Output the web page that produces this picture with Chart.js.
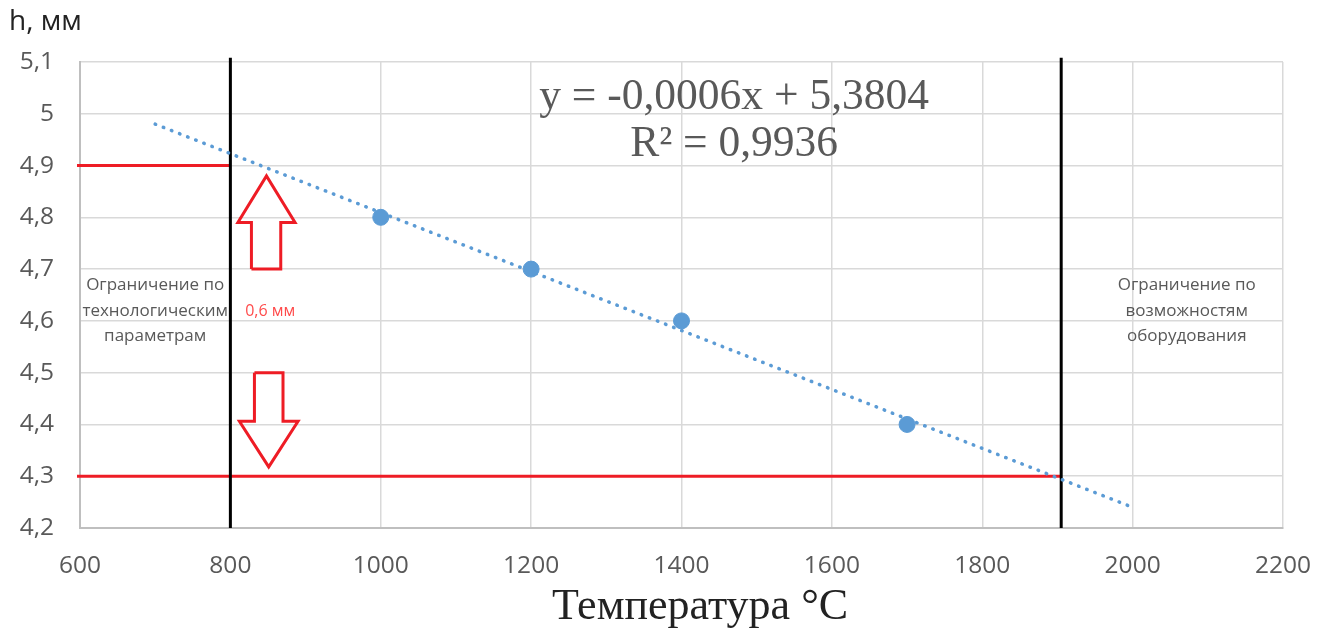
<html>
<head>
    <script src="https://cdn.jsdelivr.net/npm/chart.js@4.4.0/dist/chart.umd.min.js"></script>
    <style>
        body { margin: 0; background: #fff; }
        #wrap { position: relative; width: 1330px; height: 633px; }
    </style>
</head>
<body>
    <div id="wrap"><canvas id="chart" width="1330" height="633"></canvas></div>
    <script>
        // measured points
        const tempValues = [1000, 1200, 1400, 1700];
        const hValues = [4.8, 4.7, 4.6, 4.4];

        // trend line ends
        const trendX = [700, 2000];
        const trendY = [4.98, 4.24];

        // limits
        const limitX = [800, 1905];
        const limitYTop = 5.108;
        const upperH = 4.9;
        const lowerH = 4.3;

        // arrows (outline vertices)
        const upArrowX = [828, 828, 810, 848, 886, 867, 867, 828];
        const upArrowY = [4.70, 4.79, 4.79, 4.88, 4.79, 4.79, 4.70, 4.70];
        const downArrowX = [832, 832, 812, 851, 890, 870, 870, 832];
        const downArrowY = [4.50, 4.406, 4.406, 4.318, 4.406, 4.406, 4.50, 4.50];

        const xTickLabels = ['600', '800', '1000', '1200', '1400', '1600', '1800', '2000', '2200'];
        const yTickLabels = ['4,2', '4,3', '4,4', '4,5', '4,6', '4,7', '4,8', '4,9', '5', '5,1'];

        const toPts = (xs, ys) => xs.map((x, i) => ({ x: x, y: ys[i] }));

        const red = '#ee1c25';
        const grey = '#595959';

        const lineDs = (pts, color, width) => ({
            data: pts,
            showLine: true,
            borderColor: color,
            borderWidth: width,
            pointRadius: 0,
            fill: false,
            clip: false,
        });

        // texts drawn on the chart
        const textPlugin = {
            id: 'texts',
            afterDatasetsDraw(chart) {
                const ctx = chart.ctx;
                const xs = chart.scales.x, ys = chart.scales.y;
                ctx.save();
                ctx.textAlign = 'center';
                ctx.textBaseline = 'middle';

                ctx.fillStyle = grey;
                ctx.font = '17px "Open Sans"';
                const left = ['Ограничение по', 'технологическим', 'параметрам'];
                const right = ['Ограничение по', 'возможностям', 'оборудования'];
                left.forEach((t, i) => ctx.fillText(t, xs.getPixelForValue(700), ys.getPixelForValue(4.619) + (i - 1) * 25.5));
                right.forEach((t, i) => ctx.fillText(t, xs.getPixelForValue(2072), ys.getPixelForValue(4.619) + (i - 1) * 25.5));

                ctx.fillStyle = '#ff4b4b';
                ctx.font = '16px "Open Sans"';
                ctx.fillText('0,6 мм', xs.getPixelForValue(853), ys.getPixelForValue(4.619));

                ctx.fillStyle = grey;
                ctx.font = '43.5px "Liberation Serif"';
                ctx.fillText('y = -0,0006x + 5,3804', xs.getPixelForValue(1470), ys.getPixelForValue(5.032));
                ctx.fillText('R² = 0,9936', xs.getPixelForValue(1470), ys.getPixelForValue(4.940));

                ctx.fillStyle = '#222';
                ctx.font = '44px "Liberation Serif"';
                ctx.fillText('Температура °С', 700, 607);

                ctx.textAlign = 'left';
                ctx.font = '28px "Open Sans"';
                ctx.fillText('h, мм', 9, 22);
                ctx.restore();
            }
        };

        new Chart(document.getElementById('chart'), {
            type: 'scatter',
            data: {
                datasets: [
                    {
                        data: toPts(tempValues, hValues),
                        backgroundColor: '#5b9bd5',
                        borderColor: '#5b9bd5',
                        pointRadius: 8,
                        showLine: false,
                    },
                    Object.assign(lineDs(toPts(trendX, trendY), '#5b9bd5', 3.5), {
                        borderDash: [0.5, 8.2],
                        borderCapStyle: 'round',
                    }),
                    lineDs(toPts([limitX[0], limitX[0]], [4.2, limitYTop]), '#000', 3),
                    lineDs(toPts([limitX[1], limitX[1]], [4.2, limitYTop]), '#000', 3),
                    lineDs(toPts([596, limitX[0]], [upperH, upperH]), red, 3),
                    lineDs(toPts([596, limitX[1]], [lowerH, lowerH]), red, 3),
                    lineDs(toPts(upArrowX, upArrowY), red, 3),
                    lineDs(toPts(downArrowX, downArrowY), red, 3),
                ]
            },
            options: {
                responsive: false,
                animation: false,
                layout: { padding: { top: 62, right: 47, left: 0, bottom: 0 } },
                scales: {
                    x: {
                        type: 'linear',
                        min: 600,
                        max: 2200,
                        ticks: {
                            stepSize: 200,
                            color: grey,
                            padding: 23,
                            font: { family: '"Open Sans"', size: 24.5 },
                            callback: (v, i) => xTickLabels[i],
                        },
                        grid: { color: '#d9d9d9', lineWidth: 1.5, drawTicks: false },
                        border: { color: '#bfbfbf', width: 2 },
                        afterFit(scale) {
                            scale.height = 105;
                            scale.paddingLeft = 0;
                            scale.paddingRight = 0;
                        },
                    },
                    y: {
                        min: 4.2,
                        max: 5.1,
                        ticks: {
                            stepSize: 0.1,
                            color: grey,
                            padding: 26,
                            font: { family: '"Open Sans"', size: 24.5 },
                            callback: (v, i) => yTickLabels[i],
                        },
                        grid: { color: '#d9d9d9', lineWidth: 1.5, drawTicks: false },
                        border: { color: '#bfbfbf', width: 2 },
                        afterFit(scale) { scale.width = 80; },
                    }
                },
                plugins: {
                    legend: { display: false },
                    tooltip: { enabled: false },
                }
            },
            plugins: [textPlugin]
        });
    </script>
</body>
</html>
